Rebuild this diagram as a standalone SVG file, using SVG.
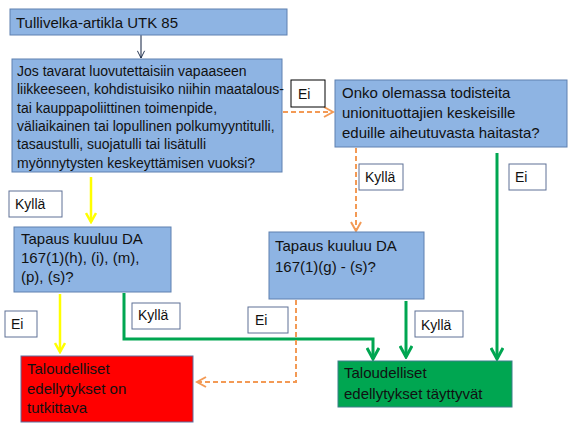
<svg xmlns="http://www.w3.org/2000/svg" width="578" height="441" viewBox="0 0 578 441">
<defs>
<style>
text{font-family:"Liberation Sans",Arial,sans-serif;fill:#111;}
.blue{fill:#8EB4E3;stroke:#5E80B0;stroke-width:1;}
.lbl{fill:#fff;stroke:#5E7096;stroke-width:1;}
.lblk{fill:#fff;stroke:#000;stroke-width:1;}
.t14{font-size:14px;}
.t15{font-size:15px;}
.yel{stroke:#FFFF00;stroke-width:2.5;fill:none;}
.grn{stroke:#00A651;stroke-width:3;fill:none;}
.org{stroke:#F39A55;stroke-width:2;fill:none;stroke-dasharray:5,3;}
.nav{stroke:#0F1F3F;stroke-width:1;fill:none;}
</style>
<marker id="aY" viewBox="0 0 12 12" refX="10" refY="6" markerWidth="12" markerHeight="12" markerUnits="userSpaceOnUse" orient="auto"><path d="M1,1 L10,6 L1,11" fill="none" stroke="#FFFF00" stroke-width="2.5"/></marker>
<marker id="aG" viewBox="0 0 14 14" refX="12" refY="7" markerWidth="14" markerHeight="14" markerUnits="userSpaceOnUse" orient="auto"><path d="M1,1 L12,7 L1,13" fill="none" stroke="#00A651" stroke-width="3"/></marker>
<marker id="aO" viewBox="0 0 12 12" refX="10" refY="6" markerWidth="12" markerHeight="12" markerUnits="userSpaceOnUse" orient="auto"><path d="M1,1 L10,6 L1,11" fill="none" stroke="#F39A55" stroke-width="2"/></marker>
<marker id="aN" viewBox="0 0 10 10" refX="9" refY="5" markerWidth="9" markerHeight="9" markerUnits="userSpaceOnUse" orient="auto"><path d="M1,1 L9,5 L1,9" fill="none" stroke="#0F1F3F" stroke-width="1"/></marker>
</defs>
<rect width="578" height="441" fill="#fff"/>
<g id="connectors">
<line class="nav" x1="141" y1="35" x2="141" y2="58" marker-end="url(#aN)"/>
<line class="org" x1="283" y1="112" x2="333" y2="112" marker-end="url(#aO)"/>
<line class="yel" x1="91" y1="177" x2="91" y2="222" marker-end="url(#aY)"/>
<line class="org" x1="356" y1="148" x2="356" y2="231" marker-end="url(#aO)"/>
<line class="grn" x1="497" y1="153" x2="497" y2="359" marker-end="url(#aG)"/>
<line class="yel" x1="60" y1="294" x2="60" y2="352" marker-end="url(#aY)"/>
<polyline class="grn" points="124,293 124,339 373,339 373,359" marker-end="url(#aG)"/>
<line class="grn" x1="406" y1="301" x2="406" y2="357" marker-end="url(#aG)"/>
<polyline class="org" points="296,300 296,382 197,382" marker-end="url(#aO)"/>
</g>
<g id="n-title">
<rect class="blue" x="10" y="9" width="277" height="26"/>
<text class="t15" x="16" y="28">Tullivelka-artikla UTK 85</text>
</g>
<g id="n-q1">
<rect class="blue" x="12" y="59" width="270" height="113"/>
<text class="t14" x="17" y="76">Jos tavarat luovutettaisiin vapaaseen</text>
<text class="t14" x="17" y="94.3">liikkeeseen, kohdistuisiko niihin maatalous-</text>
<text class="t14" x="17" y="112.6">tai kauppapoliittinen toimenpide,</text>
<text class="t14" x="17" y="130.9">väliaikainen tai lopullinen polkumyyntitulli,</text>
<text class="t14" x="17" y="149.2">tasaustulli, suojatulli tai lisätulli</text>
<text class="t14" x="17" y="167.5">myönnytysten keskeyttämisen vuoksi?</text>
</g>
<g id="n-q2">
<rect class="blue" x="335" y="80" width="232" height="67"/>
<text class="t15" x="342" y="98">Onko olemassa todisteita</text>
<text class="t15" x="342" y="118">unionituottajien keskeisille</text>
<text class="t15" x="342" y="138">eduille aiheutuvasta haitasta?</text>
</g>
<g id="n-q3">
<rect class="blue" x="14" y="227" width="157" height="65"/>
<text class="t15" x="21" y="244">Tapaus kuuluu DA</text>
<text class="t15" x="21" y="263">167(1)(h), (i), (m),</text>
<text class="t15" x="21" y="282">(p), (s)?</text>
</g>
<g id="n-q4">
<rect class="blue" x="269" y="232" width="155" height="67"/>
<text class="t15" x="275" y="251">Tapaus kuuluu DA</text>
<text class="t15" x="275" y="272">167(1)(g) - (s)?</text>
</g>
<g id="n-red">
<rect x="21" y="356" width="172" height="66" fill="#FF0000" stroke="#5E70A0" stroke-width="1"/>
<text class="t15" x="27" y="374">Taloudelliset</text>
<text class="t15" x="27" y="394">edellytykset on</text>
<text class="t15" x="27" y="413">tutkittava</text>
</g>
<g id="n-green">
<rect x="338" y="361" width="174" height="46" fill="#00A651" stroke="#3D7F8A" stroke-width="1"/>
<text class="t15" x="344" y="378">Taloudelliset</text>
<text class="t15" x="344" y="399">edellytykset täyttyvät</text>
</g>
<g id="labels">
<rect class="lblk" x="291" y="80" width="34" height="27"/>
<text class="t14" x="298" y="99">Ei</text>
<rect class="lbl" x="9" y="191" width="53" height="26"/>
<text class="t14" x="15" y="209">Kyllä</text>
<rect class="lbl" x="359" y="164" width="44" height="26"/>
<text class="t14" x="365" y="182">Kyllä</text>
<rect class="lbl" x="509" y="164" width="37" height="26"/>
<text class="t14" x="515" y="182">Ei</text>
<rect class="lbl" x="5" y="311" width="32" height="26"/>
<text class="t14" x="11" y="329">Ei</text>
<rect class="lbl" x="132" y="303" width="48" height="26"/>
<text class="t14" x="138" y="320">Kyllä</text>
<rect class="lbl" x="248" y="307" width="40" height="26"/>
<text class="t14" x="255" y="325">Ei</text>
<rect class="lbl" x="415" y="311" width="48" height="26"/>
<text class="t14" x="421" y="330">Kyllä</text>
</g>
</svg>
